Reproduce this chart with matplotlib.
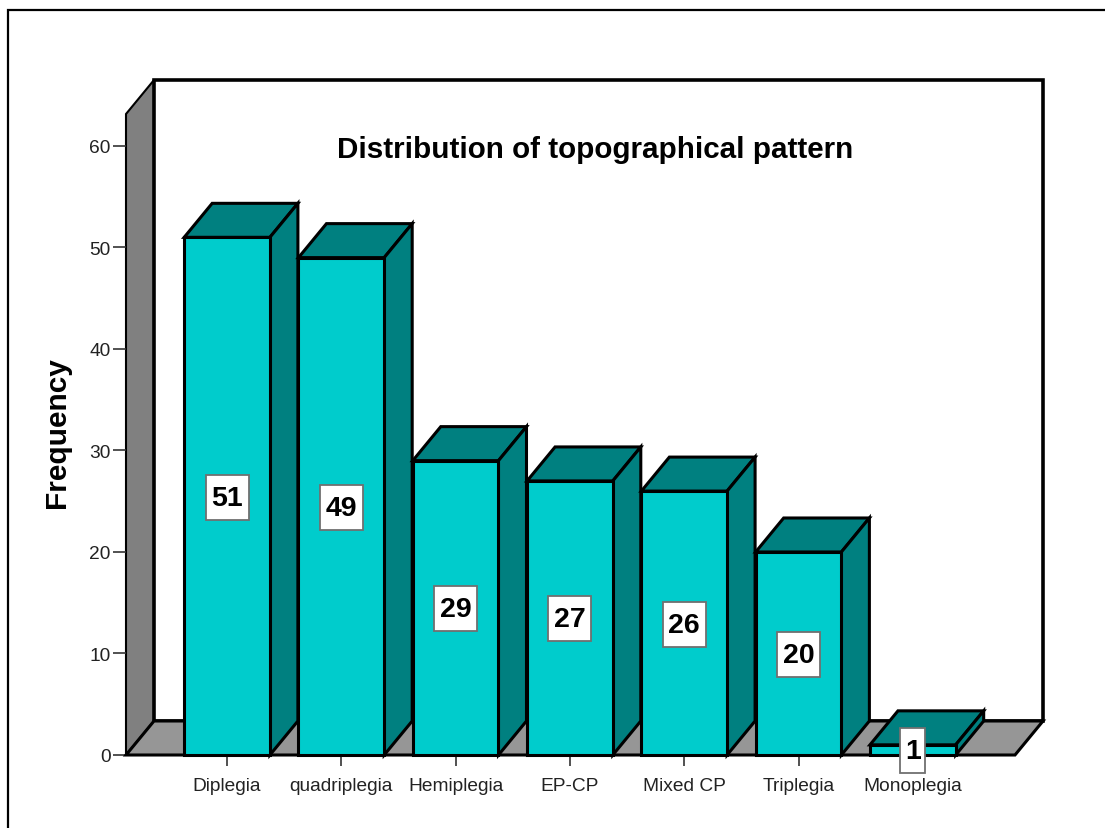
import matplotlib
matplotlib.use("Agg")
import matplotlib.pyplot as plt
from matplotlib.lines import Line2D
from matplotlib.patches import Polygon, Rectangle

plt.rcParams["font.family"] = ["Liberation Sans", "DejaVu Sans"]

categories = ["Diplegia", "quadriplegia", "Hemiplegia", "EP-CP", "Mixed CP", "Triplegia", "Monoplegia"]
frequency = [51, 49, 29, 27, 26, 20, 1]
y_ticks = [0, 10, 20, 30, 40, 50, 60]

W, H = 1105, 829
FRONT = "#00CCCC"
SIDE = "#008080"
WALL = "#808080"
FLOOR = "#969696"
EDGE = "#000000"
LW = 2.2
# 3d offset of the box depth, in axis units
DX = 0.245
DY = 3.35
BAR_W = 0.75
# axis units per pixel
UX = 1 / 114.3
UY = 1 / 10.15

fig = plt.figure(figsize=(W / 100, H / 100), dpi=100, facecolor="white")
ax = fig.add_axes([126 / W, 1 - 756 / H, (1015 - 126) / W, (756 - 115) / H])
ax.set_xlim(-0.884, 6.894)
ax.set_ylim(0, 63.15)
ax.patch.set_visible(False)
for s in ax.spines.values():
    s.set_visible(False)


def poly(pts, fc, z, lw=LW):
    ax.add_patch(Polygon(pts, closed=True, fc=fc, ec=EDGE, lw=lw, joinstyle="miter",
                         clip_on=False, zorder=z))


x0, x1 = ax.get_xlim()
y1 = ax.get_ylim()[1]
# left wall, back wall and floor
poly([(x0, 0), (x0 + DX, DY), (x0 + DX, y1 + DY), (x0, y1)], WALL, 1, lw=1.5)
poly([(x0 + DX, DY), (x1 + DX, DY), (x1 + DX, y1 + DY), (x0 + DX, y1 + DY)], "white", 2, lw=2.6)
poly([(x0, 0), (x1, 0), (x1 + DX, DY), (x0 + DX, DY)], FLOOR, 2)

for i, v in enumerate(frequency):
    l, r = i - BAR_W / 2, i + BAR_W / 2
    poly([(l, v), (r, v), (r + DX, v + DY), (l + DX, v + DY)], SIDE, 3 + i)
    poly([(r, 0), (r + DX, DY), (r + DX, v + DY), (r, v)], SIDE, 3 + i)
    poly([(l, 0), (r, 0), (r, v), (l, v)], FRONT, 3 + i)
    # value label on a white box, narrower for one digit
    bw = (43 if v >= 10 else 25) * UX
    bh = 45 * UY
    ax.add_patch(Rectangle((i - bw / 2, v / 2 - bh / 2 - 0.1), bw, bh, fc="white", ec="#707070", lw=1.3,
                           clip_on=False, zorder=20))
    ax.text(i, v / 2 + 0.15, str(v), ha="center", va="center_baseline", fontsize=20.5, color="black",
            fontweight="bold", zorder=21, clip_on=False)

ax.set_xticks(range(len(categories)))
ax.set_xticklabels(categories, fontsize=13.8, color="#222222")
ax.set_yticks(y_ticks)
ax.tick_params(axis="y", length=9.4, width=1.2, color="#333333", labelsize=13.8,
               labelcolor="#222222", pad=1.5)
ax.tick_params(axis="x", length=8, width=1.2, color="#333333", pad=7.5)
ax.set_ylabel("Frequency", fontsize=21.5, fontweight="bold", labelpad=13.5, y=0.505)

fig.text(595.5 / W, 1 - 150 / H, "Distribution of topographical pattern", ha="center", va="center",
         fontsize=21.3, fontweight="bold", color="black")

# frame around the chart, open on the right and at the bottom
fig.add_artist(Line2D([8 / W, 8 / W, 1], [0, 1 - 10.5 / H, 1 - 10.5 / H], color="black", lw=1.6,
                      solid_joinstyle="miter"))

fig.savefig("out.png", dpi=100)
